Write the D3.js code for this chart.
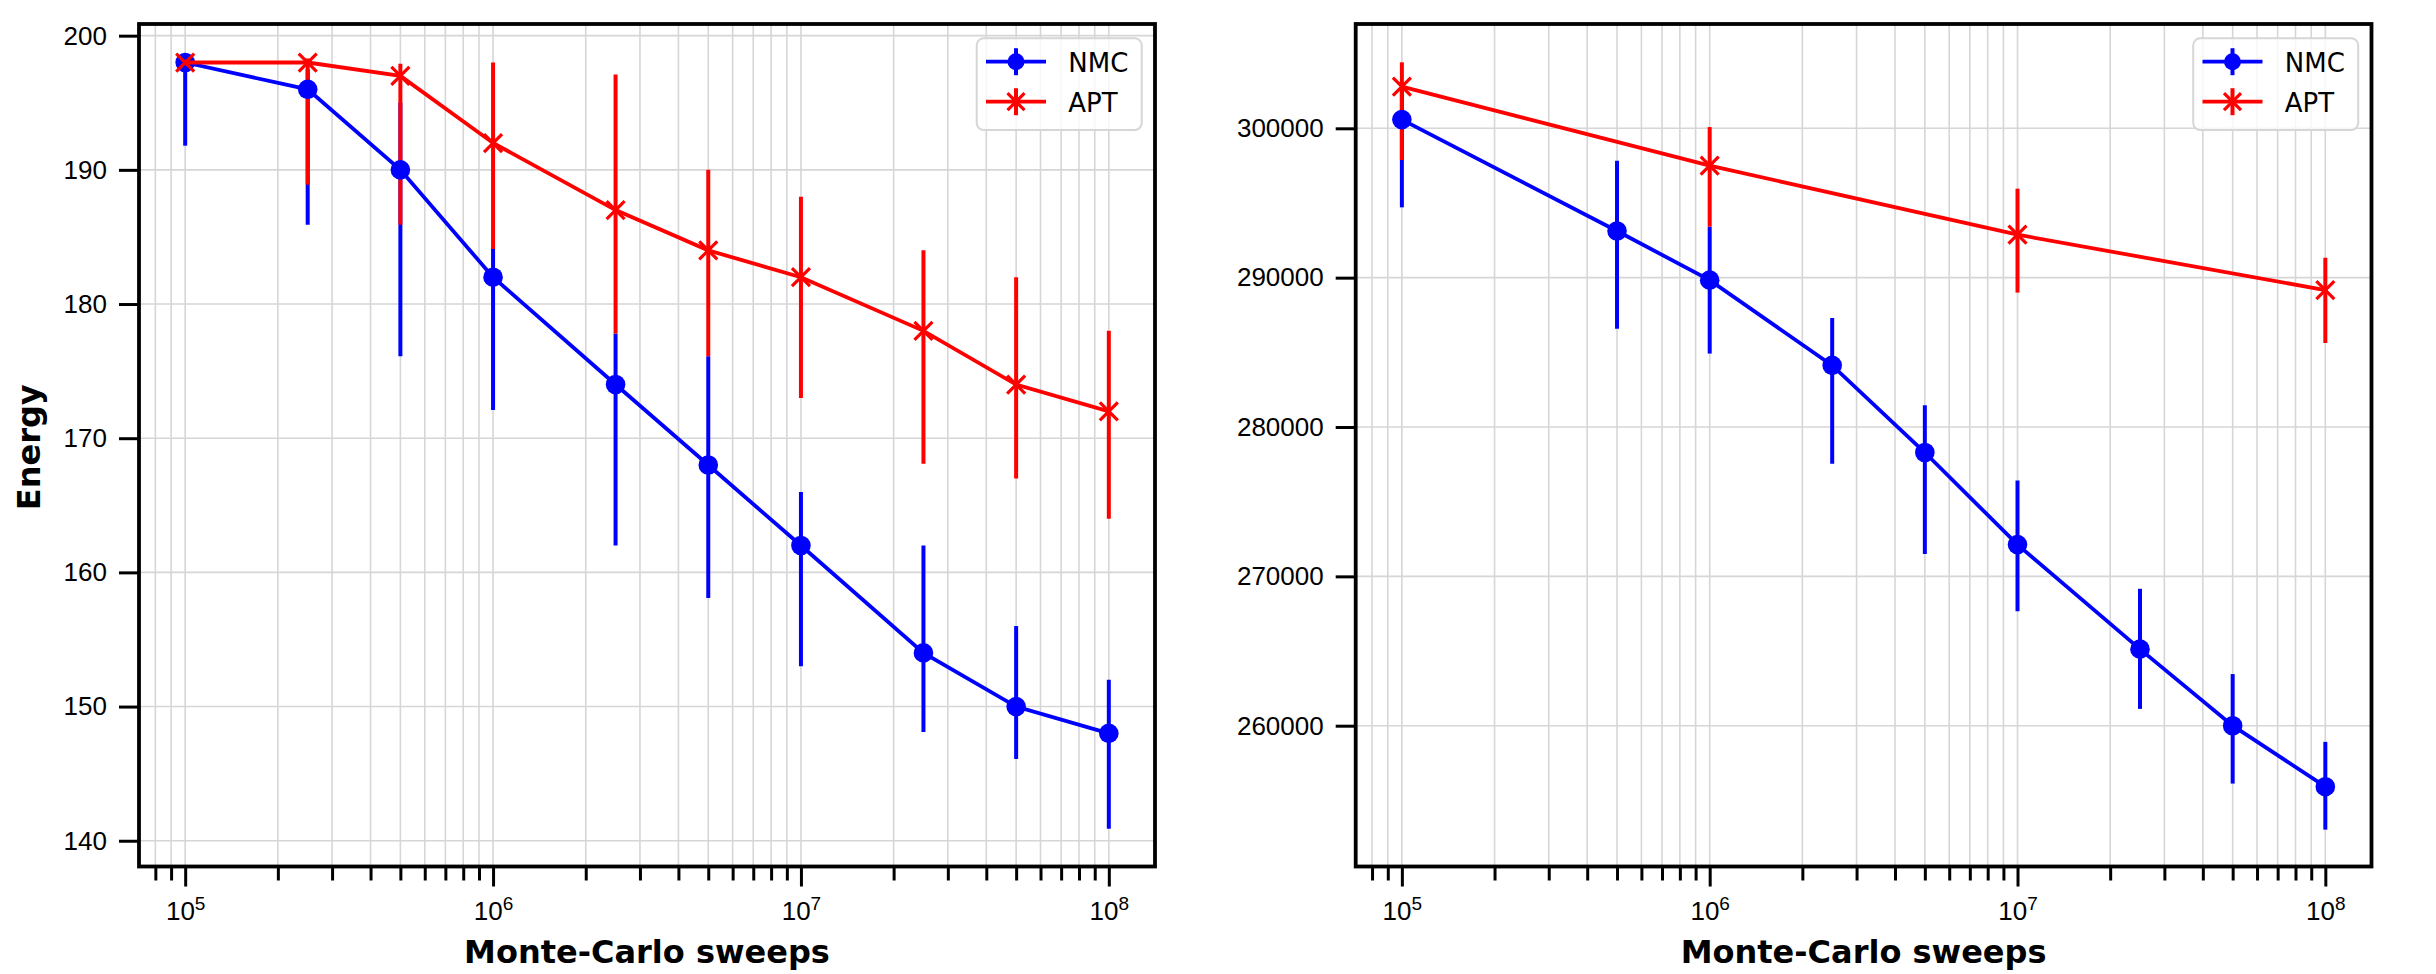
<!DOCTYPE html>
<html>
<head>
<meta charset="utf-8">
<script src="https://cdn.jsdelivr.net/npm/d3@7"></script>
<style>
  body { margin: 0; background: #fff; }
  svg { display: block; font-family: "DejaVu Sans", sans-serif; }
</style>
</head>
<body>
<div id="chart"></div>
<script>
// Left panel: small system
const sweepsLeft = [1e5, 2.5e5, 5e5, 1e6, 2.5e6, 5e6, 1e7, 2.5e7, 5e7, 1e8];
const nmcLeft     = [198, 196, 190, 182, 174, 168, 162, 154, 150, 148];
const nmcLeftLow  = [191.8, 185.9, 176.1, 172.1, 162.0, 158.1, 153.0, 148.1, 146.1, 140.9];
const nmcLeftHigh = [198.4, 197.5, 195.0, 184.1, 177.8, 176.1, 166.0, 162.0, 156.0, 152.0];
const aptLeft     = [198, 198, 197, 192, 187, 184, 182, 178, 174, 172];
const aptLeftLow  = [197.6, 188.9, 185.9, 184.1, 177.8, 176.1, 173.0, 168.1, 167.0, 164.0];
const aptLeftHigh = [198.4, 198.3, 197.9, 198.0, 197.1, 190.0, 188.0, 184.0, 182.0, 178.0];
const yTicksLeft  = [140, 150, 160, 170, 180, 190, 200];

// Right panel: large system
const sweepsRightNmc = [1e5, 5e5, 1e6, 2.5e6, 5e6, 1e7, 2.5e7, 5e7, 1e8];
const nmcRight     = [300583, 293125, 289833, 284125, 278292, 272125, 265125, 260000, 255917];
const nmcRightLow  = [294708, 286583, 284917, 277542, 271500, 267667, 261125, 256125, 253042];
const nmcRightHigh = [302500, 297833, 293417, 287292, 281458, 276417, 269167, 263458, 258917];
const sweepsRightApt = [1e5, 1e6, 1e7, 1e8];
const aptRight     = [302792, 297500, 292875, 289167];
const aptRightLow  = [297875, 293417, 289000, 285625];
const aptRightHigh = [304417, 300083, 295958, 291333];
const yTicksRight  = [260000, 270000, 280000, 290000, 300000];

const xMajor = [1e5, 1e6, 1e7, 1e8];
const seriesNames = ["NMC", "APT"];

const width = 2436, height = 974;
const svg = d3.select("#chart").append("svg")
    .attr("width", width)
    .attr("height", height);

function zip(xs, ys, lo, hi) {
    return xs.map((x, i) => ({x: x, y: ys[i], lo: lo[i], hi: hi[i]}));
}

function drawPanel(cfg) {
    const top = 24, bottom = 866.5;
    const x = d3.scaleLog()
        .domain([Math.pow(10, 4.85), Math.pow(10, 8.15)])
        .range([cfg.left, cfg.right]);
    const y = d3.scaleLinear()
        .domain(cfg.yDomain)
        .range([bottom, top]);

    // minor tick values inside the domain
    const minor = [];
    for (let e = 4; e <= 8; e++) {
        for (let m = 2; m <= 9; m++) {
            const v = m * Math.pow(10, e);
            if (v > x.domain()[0] && v < x.domain()[1]) minor.push(v);
        }
    }

    const g = svg.append("g");

    // grid
    const grid = g.append("g")
        .attr("stroke", "#d6d6d6")
        .attr("stroke-width", 1.6);
    grid.selectAll(".gx")
        .data(xMajor.concat(minor))
        .join("line")
            .attr("x1", d => x(d)).attr("x2", d => x(d))
            .attr("y1", top).attr("y2", bottom);
    grid.selectAll(".gy")
        .data(cfg.yTicks)
        .join("line")
            .attr("class", "gy")
            .attr("x1", cfg.left).attr("x2", cfg.right)
            .attr("y1", d => y(d)).attr("y2", d => y(d));

    // x axis, major and minor
    const xAxis = g.append("g")
        .attr("transform", `translate(0, ${bottom})`)
        .call(d3.axisBottom(x).tickValues(xMajor).tickSize(20).tickPadding(15).tickFormat(""));
    xAxis.append("g").call(d3.axisBottom(x).tickValues(minor).tickSize(14).tickFormat(""));
    xAxis.selectAll(".domain").remove();
    xAxis.selectAll(".tick line").attr("stroke", "#000").attr("stroke-width", 3);
    xAxis.selectAll(".tick text")
        .style("font-size", "26px")
        .attr("fill", "#000")
        .each(function(d) {
            if (xMajor.indexOf(d) < 0) return;
            const t = d3.select(this);
            t.append("tspan").text("10");
            t.append("tspan")
                .text(Math.round(Math.log10(d)))
                .attr("font-size", "19px")
                .attr("dy", "-0.55em");
        });

    // y axis
    const yAxis = g.append("g")
        .attr("transform", `translate(${cfg.left}, 0)`)
        .call(d3.axisLeft(y).tickValues(cfg.yTicks).tickSize(20).tickPadding(12).tickFormat(d3.format("d")));
    yAxis.selectAll(".domain").remove();
    yAxis.selectAll(".tick line").attr("stroke", "#000").attr("stroke-width", 3);
    yAxis.selectAll(".tick text").style("font-size", "26px").attr("fill", "#000");

    // error bars first (below all lines)
    cfg.series.forEach(s => {
        g.append("g").selectAll("line")
            .data(s.data)
            .join("line")
                .attr("x1", d => x(d.x)).attr("x2", d => x(d.x))
                .attr("y1", d => y(d.lo)).attr("y2", d => y(d.hi))
                .attr("stroke", s.color)
                .attr("stroke-width", 4);
    });

    const line = d3.line().x(d => x(d.x)).y(d => y(d.y));
    cfg.series.forEach(s => {
        g.append("path")
            .datum(s.data)
            .attr("d", line)
            .attr("fill", "none")
            .attr("stroke", s.color)
            .attr("stroke-width", 3.8);
        drawMarkers(g, s, d => x(d.x), d => y(d.y));
    });

    // spines
    g.append("rect")
        .attr("x", cfg.left).attr("y", top)
        .attr("width", cfg.right - cfg.left).attr("height", bottom - top)
        .attr("fill", "none")
        .attr("stroke", "#000")
        .attr("stroke-width", 3.8);

    // x label
    g.append("text")
        .attr("x", (cfg.left + cfg.right) / 2)
        .attr("y", 963)
        .attr("text-anchor", "middle")
        .style("font", "bold 32px 'DejaVu Sans'")
        .text("Monte-Carlo sweeps");

    if (cfg.yLabel) {
        g.append("text")
            .attr("transform", `translate(40, ${(top + bottom) / 2 + 2}) rotate(-90)`)
            .attr("text-anchor", "middle")
            .style("font", "bold 32px 'DejaVu Sans'")
            .text(cfg.yLabel);
    }

    // legend
    const bx = cfg.right - 13.3 - 165, by = 38.3;
    const leg = g.append("g");
    leg.append("rect")
        .attr("x", bx).attr("y", by)
        .attr("width", 165).attr("height", 91.7)
        .attr("rx", 7)
        .attr("fill", "#fff").attr("fill-opacity", 0.8)
        .attr("stroke", "#d6d6d6").attr("stroke-width", 2);
    cfg.series.forEach((s, i) => {
        const cy = by + 23.4 + i * 40;
        const cx = bx + 39.3;
        leg.append("line")
            .attr("x1", bx + 9.3).attr("x2", bx + 69.3)
            .attr("y1", cy).attr("y2", cy)
            .attr("stroke", s.color).attr("stroke-width", 3.8);
        leg.append("line")
            .attr("x1", cx).attr("x2", cx)
            .attr("y1", cy - 13.5).attr("y2", cy + 13.5)
            .attr("stroke", s.color).attr("stroke-width", 4);
        drawMarkers(leg, {color: s.color, marker: s.marker, data: [0], r: 8.5}, () => cx, () => cy);
        leg.append("text")
            .attr("x", bx + 91.6)
            .attr("y", cy + 10)
            .style("font-size", "26px")
            .text(s.name);
    });
}

function drawMarkers(g, s, fx, fy) {
    if (s.marker === "o") {
        g.append("g").selectAll("circle")
            .data(s.data)
            .join("circle")
                .attr("cx", fx).attr("cy", fy)
                .attr("r", s.r || 9.8)
                .attr("fill", s.color);
    } else {
        const r = s.r || 9;
        g.append("g").selectAll("path")
            .data(s.data)
            .join("path")
                .attr("d", d => {
                    const px = fx(d), py = fy(d);
                    return `M${px - r},${py - r}L${px + r},${py + r}M${px - r},${py + r}L${px + r},${py - r}`;
                })
                .attr("stroke", s.color)
                .attr("stroke-width", 3.2)
                .attr("fill", "none");
    }
}

drawPanel({
    left: 139, right: 1155,
    yDomain: [138.08, 200.87],
    yTicks: yTicksLeft,
    yLabel: "Energy",
    series: [
        {name: seriesNames[0], color: "#0000ff", marker: "o", data: zip(sweepsLeft, nmcLeft, nmcLeftLow, nmcLeftHigh)},
        {name: seriesNames[1], color: "#ff0000", marker: "x", data: zip(sweepsLeft, aptLeft, aptLeftLow, aptLeftHigh)}
    ]
});

drawPanel({
    left: 1355.7, right: 2371.5,
    yDomain: [250573, 306984],
    yTicks: yTicksRight,
    yLabel: null,
    series: [
        {name: seriesNames[0], color: "#0000ff", marker: "o", data: zip(sweepsRightNmc, nmcRight, nmcRightLow, nmcRightHigh)},
        {name: seriesNames[1], color: "#ff0000", marker: "x", data: zip(sweepsRightApt, aptRight, aptRightLow, aptRightHigh)}
    ]
});
</script>
</body>
</html>
